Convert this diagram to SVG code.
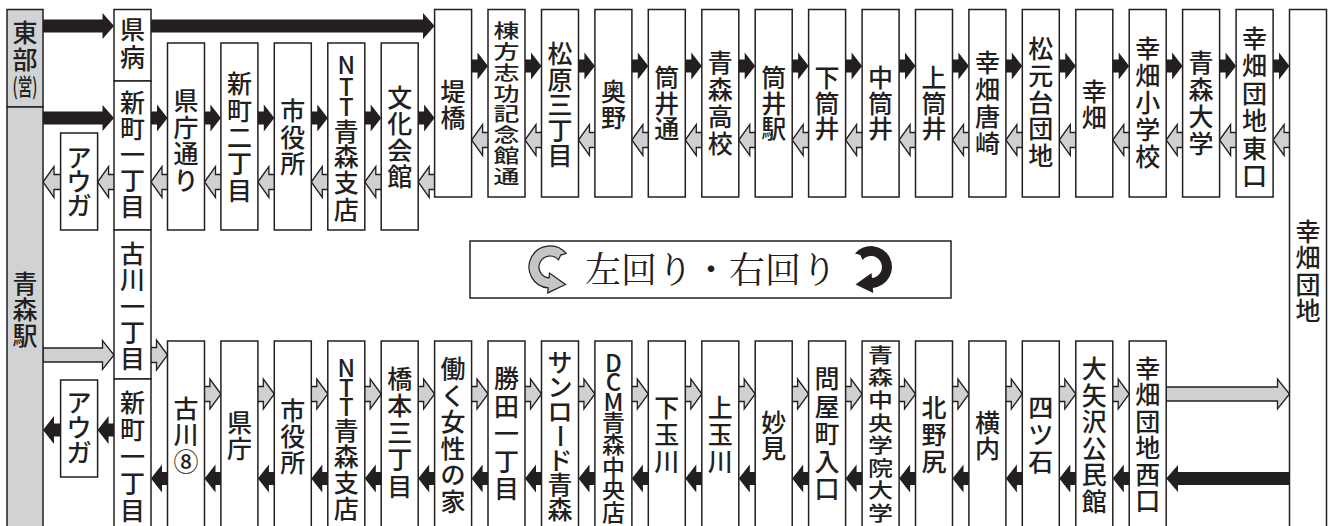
<svg xmlns="http://www.w3.org/2000/svg" width="1332" height="526" viewBox="0 0 1332 526">
<style>
.b{fill:#fff;stroke:#231f20;stroke-width:1.5}
.g{fill:#d1d2d4;stroke:#231f20;stroke-width:1.5}
.t{font-family:"Noto Sans CJK JP","Noto Sans CJK SC",sans-serif;font-size:25px;font-weight:500;fill:#231f20;text-anchor:middle}
.l{font-size:24px}
.ab{fill:#231f20}
.ag{fill:#cfd0d2;stroke:#231f20;stroke-width:1.3}
.lg{font-family:"Noto Serif CJK JP","Noto Sans CJK JP",serif;font-size:36px;fill:#231f20;text-anchor:middle}
</style>
<defs>
<path id="bR" class="ab" d="M-19,-6.5H-10.5V-13.5L0,0L-10.5,13.5V6.5H-19Z"/>
<path id="bL" class="ab" d="M0,0L11,-14V-6.5H19V6.5H11V14Z"/>
<path id="gL" class="ag" d="M0,0L11,-15.5V-7.5H19V7.5H11V15.5Z"/>
<path id="gR" class="ag" d="M0,0L-11,-15V-7.5H-19V7.5H-11V15Z"/>
<path id="rot" d="M566.09,253.5A21,21 0 1 0 548.17,287.92L547.74,292.9L565.5,284.5L549.47,273.02L549.04,277.96A11,11 0 1 1 558.43,259.93L560.7,255.1Z"/>
</defs>

<g id="connectors">
<path class="ab" d="M43,19.5H102.5V13L114,26L102.5,39V32.5H43Z"/>
<path class="ab" d="M151,19.5H423V13L434.6,26L423,39V32.5H151Z"/>
<path class="ab" d="M43,111.5H102.5V105L114,118L102.5,131V124.5H43Z"/>
<path class="ag" d="M43,348H102.5V340.5L114,355L102.5,369.5V362H43Z"/>
<path class="ag" d="M1166.2,387H1277.5V379L1289.5,394L1277.5,409V401H1166.2Z"/>
<path class="ab" d="M1289.5,472H1178V465L1166.2,478.5L1178,492V485H1289.5Z"/>
<use href="#bR" x="488.0" y="66"/><use href="#bR" x="541.5" y="66"/><use href="#bR" x="594.9" y="66"/><use href="#bR" x="648.3" y="66"/><use href="#bR" x="701.8" y="66"/><use href="#bR" x="755.2" y="66"/><use href="#bR" x="808.6" y="66"/><use href="#bR" x="862.1" y="66"/><use href="#bR" x="915.5" y="66"/><use href="#bR" x="968.9" y="66"/><use href="#bR" x="1022.3" y="66"/><use href="#bR" x="1075.8" y="66"/><use href="#bR" x="1129.2" y="66"/><use href="#bR" x="1182.6" y="66"/><use href="#bR" x="1236.1" y="66"/><use href="#bR" x="1289.5" y="66"/>
<use href="#gL" x="471.6" y="140"/><use href="#gL" x="525.0" y="140"/><use href="#gL" x="578.5" y="140"/><use href="#gL" x="631.9" y="140"/><use href="#gL" x="685.3" y="140"/><use href="#gL" x="738.8" y="140"/><use href="#gL" x="792.2" y="140"/><use href="#gL" x="845.6" y="140"/><use href="#gL" x="899.1" y="140"/><use href="#gL" x="952.5" y="140"/><use href="#gL" x="1005.9" y="140"/><use href="#gL" x="1059.3" y="140"/><use href="#gL" x="1112.8" y="140"/><use href="#gL" x="1166.2" y="140"/><use href="#gL" x="1219.6" y="140"/><use href="#gL" x="1273.1" y="140"/>
<use href="#bR" x="167.5" y="118"/><use href="#bR" x="220.9" y="118"/><use href="#bR" x="274.3" y="118"/><use href="#bR" x="327.8" y="118"/><use href="#bR" x="381.2" y="118"/><use href="#bR" x="434.6" y="118"/>
<use href="#gL" x="43" y="182"/><use href="#gL" x="97.6" y="182"/><use href="#gL" x="151.0" y="182"/><use href="#gL" x="204.5" y="182"/><use href="#gL" x="257.9" y="182"/><use href="#gL" x="311.3" y="182"/><use href="#gL" x="364.8" y="182"/><use href="#gL" x="418.2" y="182"/>
<use href="#gR" x="167.5" y="355"/>
<use href="#gR" x="220.9" y="394"/><use href="#gR" x="274.3" y="394"/><use href="#gR" x="327.8" y="394"/><use href="#gR" x="381.2" y="394"/><use href="#gR" x="434.6" y="394"/><use href="#gR" x="488.0" y="394"/><use href="#gR" x="541.5" y="394"/><use href="#gR" x="594.9" y="394"/><use href="#gR" x="648.3" y="394"/><use href="#gR" x="701.8" y="394"/><use href="#gR" x="755.2" y="394"/><use href="#gR" x="808.6" y="394"/><use href="#gR" x="862.1" y="394"/><use href="#gR" x="915.5" y="394"/><use href="#gR" x="968.9" y="394"/><use href="#gR" x="1022.3" y="394"/><use href="#gR" x="1075.8" y="394"/><use href="#gR" x="1129.2" y="394"/>
<use href="#bL" x="151.0" y="478.5"/><use href="#bL" x="204.5" y="478.5"/><use href="#bL" x="257.9" y="478.5"/><use href="#bL" x="311.3" y="478.5"/><use href="#bL" x="364.8" y="478.5"/><use href="#bL" x="418.2" y="478.5"/><use href="#bL" x="471.6" y="478.5"/><use href="#bL" x="525.0" y="478.5"/><use href="#bL" x="578.5" y="478.5"/><use href="#bL" x="631.9" y="478.5"/><use href="#bL" x="685.3" y="478.5"/><use href="#bL" x="738.8" y="478.5"/><use href="#bL" x="792.2" y="478.5"/><use href="#bL" x="845.6" y="478.5"/><use href="#bL" x="899.1" y="478.5"/><use href="#bL" x="952.5" y="478.5"/><use href="#bL" x="1005.9" y="478.5"/><use href="#bL" x="1059.3" y="478.5"/><use href="#bL" x="1112.8" y="478.5"/>
<use href="#bL" x="43" y="430"/><use href="#bL" x="97.6" y="430"/>
</g>

<g id="tobu-ei"><rect class="g" x="7" y="9.5" width="36" height="97.5"/><text class="t" x="25" y="42">東<tspan x="25" dy="26.5">部</tspan></text><text class="t" style="font-size:23px;text-anchor:start" x="12.5" y="94.5" textLength="25" lengthAdjust="spacingAndGlyphs">(営)</text></g>
<g id="aomori-eki"><rect class="g" x="7" y="107" width="36" height="423"/><text class="t" x="25" y="293">青<tspan x="25" dy="26">森</tspan><tspan x="25" dy="26">駅</tspan></text></g>

<g id="auga-1"><rect class="b" x="60.6" y="133" width="37" height="97"/><text class="t" x="79.1" y="167">ア<tspan x="79.1" dy="24">ウ</tspan><tspan x="79.1" dy="24">ガ</tspan></text></g>
<g id="auga-2"><rect class="b" x="60.6" y="380" width="37" height="97"/><text class="t" x="79.1" y="412">ア<tspan x="79.1" dy="25">ウ</tspan><tspan x="79.1" dy="25">ガ</tspan></text></g>

<g id="kenbyo"><rect class="b" x="114" y="9.5" width="37" height="71.5"/><text class="t" x="132.5" y="39">県<tspan x="132.5" dy="28">病</tspan></text></g>
<g id="shinmachi1-a"><rect class="b" x="114" y="81" width="37" height="149"/><text class="t" x="132.5" y="112">新<tspan x="132.5" dy="26">町</tspan><tspan x="132.5" dy="26">一</tspan><tspan x="132.5" dy="26">丁</tspan><tspan x="132.5" dy="26">目</tspan></text></g>
<g id="furukawa1"><rect class="b" x="114" y="230" width="37" height="149"/><text class="t" x="132.5" y="263">古<tspan x="132.5" dy="26.25">川</tspan><tspan x="132.5" dy="26.25">一</tspan><tspan x="132.5" dy="26.25">丁</tspan><tspan x="132.5" dy="26.25">目</tspan></text></g>
<g id="shinmachi1-b"><rect class="b" x="114" y="379" width="37" height="151"/><text class="t" x="132.5" y="412">新<tspan x="132.5" dy="27">町</tspan><tspan x="132.5" dy="27">一</tspan><tspan x="132.5" dy="27">丁</tspan><tspan x="132.5" dy="27">目</tspan></text></g>

<g id="kenchodori"><rect class="b" x="167.5" y="43" width="37" height="187"/><text class="t" x="186" y="110">県<tspan x="186" dy="26.5">庁</tspan><tspan x="186" dy="26.5">通</tspan><tspan x="186" dy="26.5">り</tspan></text></g>
<g id="shinmachi2"><rect class="b" x="220.9" y="43" width="37" height="187"/><text class="t" x="239.4" y="93">新<tspan x="239.4" dy="26.75">町</tspan><tspan x="239.4" dy="26.75">二</tspan><tspan x="239.4" dy="26.75">丁</tspan><tspan x="239.4" dy="26.75">目</tspan></text></g>
<g id="shiyakusho-a"><rect class="b" x="274.3" y="43" width="37" height="187"/><text class="t" x="292.8" y="120">市<tspan x="292.8" dy="26.5">役</tspan><tspan x="292.8" dy="26.5">所</tspan></text></g>
<g id="ntt-a"><rect class="b" x="327.8" y="43" width="37" height="187"/><text class="t"><tspan class="l" x="346.3" y="74">N</tspan><tspan class="l" x="346.3" y="95.5">T</tspan><tspan class="l" x="346.3" y="116">T</tspan><tspan x="346.3" y="140.5">青</tspan><tspan x="346.3" y="165.5">森</tspan><tspan x="346.3" y="191.5">支</tspan><tspan x="346.3" y="218.5">店</tspan></text></g>
<g id="bunka-kaikan"><rect class="b" x="381.2" y="43" width="37" height="187"/><text class="t" x="399.7" y="107">文<tspan x="399.7" dy="26.3">化</tspan><tspan x="399.7" dy="26.3">会</tspan><tspan x="399.7" dy="26.3">館</tspan></text></g>

<g id="tsutsumibashi"><rect class="b" x="434.6" y="9.5" width="37" height="187.5"/><text class="t" x="453.1" y="100.75">堤<tspan x="453.1" dy="26.5">橋</tspan></text></g>
<g id="munakata"><rect class="b" x="488" y="9.5" width="37" height="187.5"/><text class="t" style="font-size:26px" transform="translate(506.5 0) scale(1 0.76)" x="0" y="50">棟<tspan x="0" dy="27.45">方</tspan><tspan x="0" dy="27.45">志</tspan><tspan x="0" dy="27.45">功</tspan><tspan x="0" dy="27.45">記</tspan><tspan x="0" dy="27.45">念</tspan><tspan x="0" dy="27.45">館</tspan><tspan x="0" dy="27.45">通</tspan></text></g>
<g id="matsubara3"><rect class="b" x="541.5" y="9.5" width="37" height="187.5"/><text class="t" x="560" y="63">松<tspan x="560" dy="25.5">原</tspan><tspan x="560" dy="25.5">三</tspan><tspan x="560" dy="25.5">丁</tspan><tspan x="560" dy="25.5">目</tspan></text></g>
<g id="okuno"><rect class="b" x="594.9" y="9.5" width="37" height="187.5"/><text class="t" x="613.4" y="100.75">奥<tspan x="613.4" dy="26.5">野</tspan></text></g>
<g id="tsutsuidori"><rect class="b" x="648.3" y="9.5" width="37" height="187.5"/><text class="t" x="666.8" y="87">筒<tspan x="666.8" dy="25.5">井</tspan><tspan x="666.8" dy="25.5">通</tspan></text></g>
<g id="aomori-koko"><rect class="b" x="701.8" y="9.5" width="37" height="187.5"/><text class="t" x="720.3" y="72">青<tspan x="720.3" dy="27">森</tspan><tspan x="720.3" dy="27">高</tspan><tspan x="720.3" dy="27">校</tspan></text></g>
<g id="tsutsui-eki"><rect class="b" x="755.2" y="9.5" width="37" height="187.5"/><text class="t" x="773.7" y="87">筒<tspan x="773.7" dy="25.5">井</tspan><tspan x="773.7" dy="25.5">駅</tspan></text></g>
<g id="shimotsutsui"><rect class="b" x="808.6" y="9.5" width="37" height="187.5"/><text class="t" x="827.1" y="87">下<tspan x="827.1" dy="25.5">筒</tspan><tspan x="827.1" dy="25.5">井</tspan></text></g>
<g id="nakatsutsui"><rect class="b" x="862.1" y="9.5" width="37" height="187.5"/><text class="t" x="880.6" y="87">中<tspan x="880.6" dy="25.5">筒</tspan><tspan x="880.6" dy="25.5">井</tspan></text></g>
<g id="kamitsutsui"><rect class="b" x="915.5" y="9.5" width="37" height="187.5"/><text class="t" x="934" y="87">上<tspan x="934" dy="25.5">筒</tspan><tspan x="934" dy="25.5">井</tspan></text></g>
<g id="kobata-karasaki"><rect class="b" x="968.9" y="9.5" width="37" height="187.5"/><text class="t" x="987.4" y="72">幸<tspan x="987.4" dy="27">畑</tspan><tspan x="987.4" dy="27">唐</tspan><tspan x="987.4" dy="27">崎</tspan></text></g>
<g id="matsumotodai"><rect class="b" x="1022.3" y="9.5" width="37" height="187.5"/><text class="t" x="1040.8" y="58">松<tspan x="1040.8" dy="26.75">元</tspan><tspan x="1040.8" dy="26.75">台</tspan><tspan x="1040.8" dy="26.75">団</tspan><tspan x="1040.8" dy="26.75">地</tspan></text></g>
<g id="kobata"><rect class="b" x="1075.8" y="9.5" width="37" height="187.5"/><text class="t" x="1094.3" y="100.75">幸<tspan x="1094.3" dy="26.5">畑</tspan></text></g>
<g id="kobata-sho"><rect class="b" x="1129.2" y="9.5" width="37" height="187.5"/><text class="t" x="1147.7" y="58">幸<tspan x="1147.7" dy="27">畑</tspan><tspan x="1147.7" dy="27">小</tspan><tspan x="1147.7" dy="27">学</tspan><tspan x="1147.7" dy="27">校</tspan></text></g>
<g id="aomori-daigaku"><rect class="b" x="1182.6" y="9.5" width="37" height="187.5"/><text class="t" x="1201.1" y="72">青<tspan x="1201.1" dy="27">森</tspan><tspan x="1201.1" dy="27">大</tspan><tspan x="1201.1" dy="27">学</tspan></text></g>
<g id="kobata-danchi-higashi"><rect class="b" x="1236.1" y="9.5" width="37" height="187.5"/><text class="t" x="1254.6" y="48">幸<tspan x="1254.6" dy="27.4">畑</tspan><tspan x="1254.6" dy="27.4">団</tspan><tspan x="1254.6" dy="27.4">地</tspan><tspan x="1254.6" dy="27.4">東</tspan><tspan x="1254.6" dy="27.4">口</tspan></text></g>
<g id="kobata-danchi"><rect class="b" x="1289.5" y="9.5" width="37" height="520"/><text class="t" x="1308" y="240.5">幸<tspan x="1308" dy="26.5">畑</tspan><tspan x="1308" dy="26.5">団</tspan><tspan x="1308" dy="26.5">地</tspan></text></g>

<g id="furukawa8"><rect class="b" x="167.5" y="341" width="37" height="189"/><text class="t" x="186" y="418">古<tspan x="186" dy="26.25">川</tspan><tspan x="186" dy="26.25">⑧</tspan></text></g>
<g id="kencho"><rect class="b" x="220.9" y="341" width="37" height="189"/><text class="t" x="239.4" y="432">県<tspan x="239.4" dy="26">庁</tspan></text></g>
<g id="shiyakusho-b"><rect class="b" x="274.3" y="341" width="37" height="189"/><text class="t" x="292.8" y="420">市<tspan x="292.8" dy="26">役</tspan><tspan x="292.8" dy="26">所</tspan></text></g>
<g id="ntt-b"><rect class="b" x="327.8" y="341" width="37" height="189"/><text class="t"><tspan class="l" x="346.3" y="377">N</tspan><tspan class="l" x="346.3" y="397">T</tspan><tspan class="l" x="346.3" y="416">T</tspan><tspan x="346.3" y="440">青</tspan><tspan x="346.3" y="466">森</tspan><tspan x="346.3" y="492">支</tspan><tspan x="346.3" y="517.5">店</tspan></text></g>
<g id="hashimoto3"><rect class="b" x="381.2" y="341" width="37" height="189"/><text class="t" x="399.7" y="387.5">橋<tspan x="399.7" dy="27.2">本</tspan><tspan x="399.7" dy="27.2">三</tspan><tspan x="399.7" dy="27.2">丁</tspan><tspan x="399.7" dy="27.2">目</tspan></text></g>
<g id="hataraku"><rect class="b" x="434.6" y="341" width="37" height="189"/><text class="t" x="453.1" y="378">働<tspan x="453.1" dy="26.6">く</tspan><tspan x="453.1" dy="26.6">女</tspan><tspan x="453.1" dy="26.6">性</tspan><tspan x="453.1" dy="26.6">の</tspan><tspan x="453.1" dy="26.6">家</tspan></text></g>
<g id="katta1"><rect class="b" x="488" y="341" width="37" height="189"/><text class="t" x="506.5" y="388">勝<tspan x="506.5" dy="27.5">田</tspan><tspan x="506.5" dy="27.5">一</tspan><tspan x="506.5" dy="27.5">丁</tspan><tspan x="506.5" dy="27.5">目</tspan></text></g>
<g id="sunroad"><rect class="b" x="541.5" y="341" width="37" height="189"/><text class="t"><tspan x="560" y="371.5">サ</tspan><tspan x="560" y="396">ン</tspan><tspan x="560" y="420.5">ロ</tspan><tspan x="560" y="469.5">ド</tspan><tspan x="560" y="494">青</tspan><tspan x="560" y="518.5">森</tspan></text><text class="t" transform="rotate(90 560 436)" x="560" y="445.5">ー</text></g>
<g id="dcm"><rect class="b" x="594.9" y="341" width="37" height="189"/><text class="t"><tspan class="l" x="613.4" y="372">D</tspan><tspan class="l" x="613.4" y="391">C</tspan><tspan class="l" x="613.4" y="410.5">M</tspan><tspan style="font-size:23px" x="613.4" y="430.7">青</tspan><tspan style="font-size:23px" x="613.4" y="453.2">森</tspan><tspan style="font-size:23px" x="613.4" y="475.7">中</tspan><tspan style="font-size:23px" x="613.4" y="498.2">央</tspan><tspan style="font-size:23px" x="613.4" y="520.7">店</tspan></text></g>
<g id="shimotamagawa"><rect class="b" x="648.3" y="341" width="37" height="189"/><text class="t" x="666.8" y="417">下<tspan x="666.8" dy="27">玉</tspan><tspan x="666.8" dy="27">川</tspan></text></g>
<g id="kamitamagawa"><rect class="b" x="701.8" y="341" width="37" height="189"/><text class="t" x="720.3" y="417">上<tspan x="720.3" dy="27">玉</tspan><tspan x="720.3" dy="27">川</tspan></text></g>
<g id="myoken"><rect class="b" x="755.2" y="341" width="37" height="189"/><text class="t" x="773.7" y="432">妙<tspan x="773.7" dy="26">見</tspan></text></g>
<g id="toyamachi"><rect class="b" x="808.6" y="341" width="37" height="189"/><text class="t" x="827.1" y="388">問<tspan x="827.1" dy="27.5">屋</tspan><tspan x="827.1" dy="27.5">町</tspan><tspan x="827.1" dy="27.5">入</tspan><tspan x="827.1" dy="27.5">口</tspan></text></g>
<g id="aomori-chuo-gakuin"><rect class="b" x="862.1" y="341" width="37" height="189"/><text class="t" style="font-size:25px" transform="translate(880.6 0) scale(1 0.82)" x="0" y="442.4">青<tspan x="0" dy="27.56">森</tspan><tspan x="0" dy="27.56">中</tspan><tspan x="0" dy="27.56">央</tspan><tspan x="0" dy="27.56">学</tspan><tspan x="0" dy="27.56">院</tspan><tspan x="0" dy="27.56">大</tspan><tspan x="0" dy="27.56">学</tspan></text></g>
<g id="kitanoshiri"><rect class="b" x="915.5" y="341" width="37" height="189"/><text class="t" x="934" y="417">北<tspan x="934" dy="27">野</tspan><tspan x="934" dy="27">尻</tspan></text></g>
<g id="yokouchi"><rect class="b" x="968.9" y="341" width="37" height="189"/><text class="t" x="987.4" y="432">横<tspan x="987.4" dy="26">内</tspan></text></g>
<g id="yotsuishi"><rect class="b" x="1022.3" y="341" width="37" height="189"/><text class="t" x="1040.8" y="417">四<tspan x="1040.8" dy="27">ツ</tspan><tspan x="1040.8" dy="27">石</tspan></text></g>
<g id="oyachi-kominkan"><rect class="b" x="1075.8" y="341" width="37" height="189"/><text class="t" x="1094.3" y="378">大<tspan x="1094.3" dy="26.6">矢</tspan><tspan x="1094.3" dy="26.6">沢</tspan><tspan x="1094.3" dy="26.6">公</tspan><tspan x="1094.3" dy="26.6">民</tspan><tspan x="1094.3" dy="26.6">館</tspan></text></g>
<g id="kobata-danchi-nishi"><rect class="b" x="1129.2" y="341" width="37" height="189"/><text class="t" x="1147.7" y="378">幸<tspan x="1147.7" dy="26.4">畑</tspan><tspan x="1147.7" dy="26.4">団</tspan><tspan x="1147.7" dy="26.4">地</tspan><tspan x="1147.7" dy="26.4">西</tspan><tspan x="1147.7" dy="26.4">口</tspan></text></g>

<g id="legend">
<rect class="b" x="470" y="241" width="481" height="57"/>
<use href="#rot" fill="#c4c5c7" stroke="#231f20" stroke-width="1.2"/>
<use href="#rot" transform="translate(1421 0) scale(-1 1)" fill="#231f20"/>
<text class="lg" x="711" y="282.5">左回り・右回り</text>
</g>
</svg>
